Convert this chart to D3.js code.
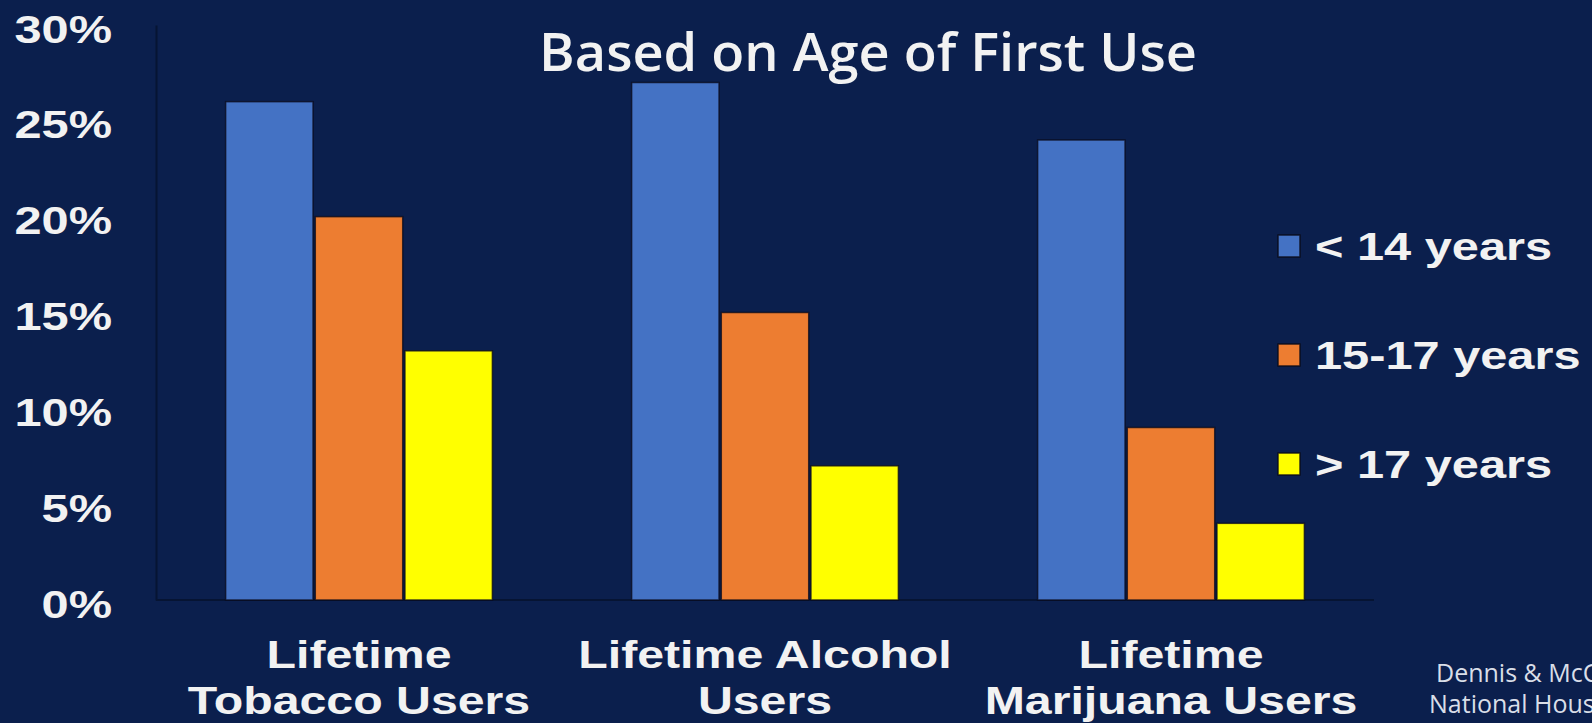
<!DOCTYPE html>
<html>
<head>
<meta charset="utf-8">
<script src="https://cdn.jsdelivr.net/npm/d3@7"></script>
<style>
  html, body { margin: 0; padding: 0; background: #0b1f4d; overflow: hidden; }
  svg { display: block; }
</style>
</head>
<body>
<svg id="chart" width="1592" height="723"></svg>
<script>
// ---- data ----
const categories = ["Lifetime Tobacco Users", "Lifetime Alcohol Users", "Lifetime Marijuana Users"];
const categoryLines = [["Lifetime", "Tobacco Users"], ["Lifetime Alcohol", "Users"], ["Lifetime", "Marijuana Users"]];
const seriesNames = ["< 14 years", "15-17 years", "> 17 years"];
const under14 = [26, 27, 24];
const age15to17 = [20, 15, 9];
const over17 = [13, 7, 4];
const seriesValues = [under14, age15to17, over17];
const seriesColors = ["#4472c4", "#ed7d31", "#ffff00"];
const tickValues = [0, 5, 10, 15, 20, 25, 30];
const tickLabels = ["0%", "5%", "10%", "15%", "20%", "25%", "30%"];
const titleText = "Based on Age of First Use";
const sourceLines = ["Dennis & McCollister", "National Household Survey"];

// ---- layout ----
const W = 1592, H = 723;
const boldFont = "'Liberation Sans', Arial, sans-serif";
const stretch = 1.25;

const svg = d3.select("#chart");
svg.append("rect").attr("width", W).attr("height", H).attr("fill", "#0b1f4d");

const x0 = d3.scaleBand().domain(categories).range([156, 1374])
  .paddingInner(0.343).paddingOuter(0.1715);
const x1 = d3.scaleBand().domain(seriesNames).range([0, x0.bandwidth()]).paddingInner(0.025);
const y = d3.scaleLinear().domain([0, 30]).range([600, 25]);

// title
svg.append("text")
  .attr("transform", "translate(868,71) scale(1.04,1)")
  .attr("text-anchor", "middle")
  .attr("font-family", "'Open Sans', sans-serif")
  .attr("font-weight", 600)
  .attr("font-size", 52)
  .attr("fill", "#f2f2f2")
  .text(titleText);

// y axis
const yAxis = svg.append("g")
  .attr("transform", "translate(156,0)")
  .call(d3.axisLeft(y).tickValues(tickValues).tickSize(0).tickSizeOuter(0)
    .tickFormat((d, i) => tickLabels[i]));
yAxis.select(".domain").attr("stroke", "#061433").attr("stroke-width", 2);
yAxis.selectAll(".tick text")
  .attr("x", 0).attr("dy", 0)
  .attr("transform", `translate(-44,17) scale(${stretch},1)`)
  .attr("text-anchor", "end")
  .attr("font-family", boldFont)
  .attr("font-weight", "bold")
  .attr("font-size", 39)
  .attr("fill", "#f2f2f2");

// baseline
svg.append("line")
  .attr("x1", x0.range()[0]).attr("x2", x0.range()[1])
  .attr("y1", y(0)).attr("y2", y(0))
  .attr("stroke", "#061433").attr("stroke-width", 2);

// bars
const groups = svg.append("g").selectAll("g")
  .data(categories).join("g")
  .attr("transform", d => `translate(${x0(d)},0)`);
groups.selectAll("rect")
  .data((d, ci) => seriesNames.map((s, si) => ({ s, si, v: seriesValues[si][ci] })))
  .join("rect")
  .attr("x", d => x1(d.s))
  .attr("width", x1.bandwidth())
  .attr("y", d => y(d.v))
  .attr("height", d => y(0) - y(d.v))
  .attr("fill", d => seriesColors[d.si])
  .attr("stroke", "rgba(10,10,25,0.75)")
  .attr("stroke-width", 1.5);

// category labels
categories.forEach((c, i) => {
  const cx = x0(c) + x0.bandwidth() / 2;
  categoryLines[i].forEach((line, li) => {
    svg.append("text")
      .attr("transform", `translate(${cx},${668 + li * 46}) scale(${stretch + 0.02},1)`)
      .attr("text-anchor", "middle")
      .attr("font-family", boldFont)
      .attr("font-weight", "bold")
      .attr("font-size", 38)
      .attr("fill", "#f2f2f2")
      .text(line);
  });
});

// legend
const legend = svg.append("g");
seriesNames.forEach((s, i) => {
  const cy = 246 + i * 109;
  legend.append("rect")
    .attr("x", 1278).attr("y", cy - 11)
    .attr("width", 22).attr("height", 22)
    .attr("fill", seriesColors[i])
    .attr("stroke", "rgba(10,10,25,0.85)").attr("stroke-width", 1.5);
  legend.append("text")
    .attr("transform", `translate(1315,${cy + 14}) scale(${stretch},1)`)
    .attr("font-family", boldFont)
    .attr("font-weight", "bold")
    .attr("font-size", 39)
    .attr("fill", "#f2f2f2")
    .text(s);
});

// source note (clipped at right edge, as in the original)
sourceLines.forEach((t, i) => {
  svg.append("text")
    .attr("x", i === 0 ? 1436 : 1429)
    .attr("y", 682 + i * 31)
    .attr("font-family", "'Open Sans', sans-serif")
    .attr("font-size", 25)
    .attr("fill", "#d9dee8")
    .text(t);
});
</script>
</body>
</html>
